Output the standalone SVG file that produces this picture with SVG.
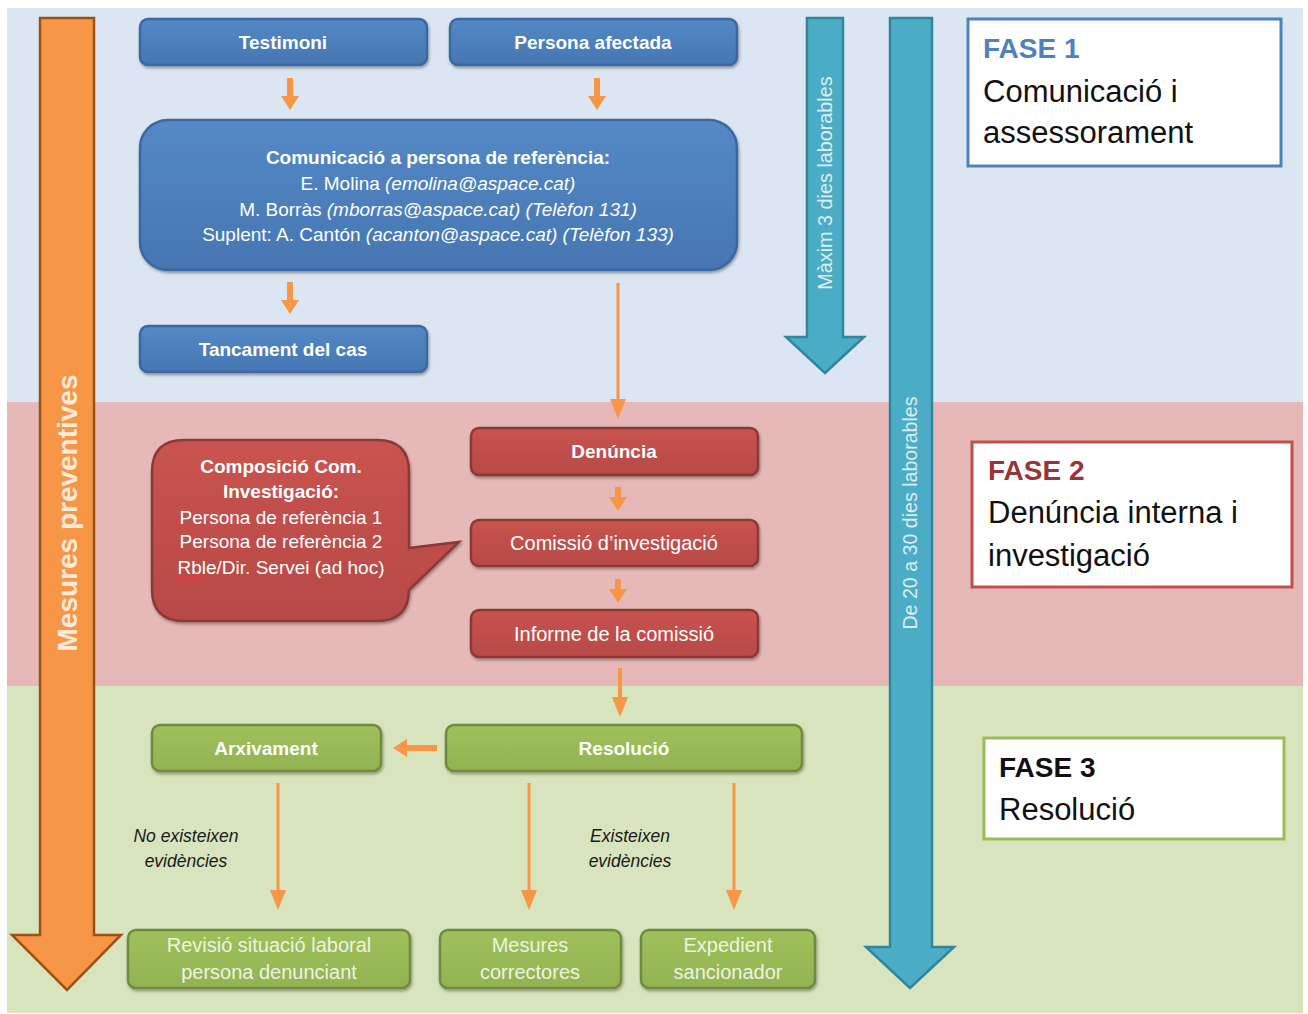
<svg xmlns="http://www.w3.org/2000/svg" width="1308" height="1014" viewBox="0 0 1308 1014">
<style>
text{font-family:"Liberation Sans",Arial,sans-serif}
.lbl{font-size:19px;fill:#ffffff;text-anchor:middle}
.b{font-weight:bold}
.rg{font-size:20px}
.blue{fill:url(#gBlue);stroke:#3a679f;stroke-width:2.5;filter:url(#sh)}
.red{fill:url(#gRed);stroke:#8c3836;stroke-width:2.5;filter:url(#sh)}
.green{fill:url(#gGreen);stroke:#71893f;stroke-width:2.5;filter:url(#sh)}
.gtx{font-size:20px;fill:#eef3e2;text-anchor:middle}
.conn line{stroke:#f79646}
.thick{stroke-width:6}
.thin{stroke-width:3}
.ital{font-size:17.5px;font-style:italic;fill:#1a1a1a;text-anchor:middle}
.fhd{font-size:28px;font-weight:bold}
.fbd{font-size:31px;fill:#111111}
</style>
<defs>
<linearGradient id="gBlue" x1="0" y1="0" x2="0" y2="1"><stop offset="0" stop-color="#5489c6"/><stop offset="1" stop-color="#4676b2"/></linearGradient>
<linearGradient id="gRed" x1="0" y1="0" x2="0" y2="1"><stop offset="0" stop-color="#c9534f"/><stop offset="1" stop-color="#b74a47"/></linearGradient>
<linearGradient id="gGreen" x1="0" y1="0" x2="0" y2="1"><stop offset="0" stop-color="#a0c05c"/><stop offset="1" stop-color="#93b352"/></linearGradient>
<filter id="sh" x="-10%" y="-20%" width="120%" height="150%"><feDropShadow dx="1" dy="2" stdDeviation="1.5" flood-color="#000" flood-opacity="0.35"/></filter>
<marker id="hs" markerUnits="userSpaceOnUse" markerWidth="14" markerHeight="18" refX="0" refY="9" orient="auto"><path d="M0,0 L14,9 L0,18 Z" fill="#f79646"/></marker>
<marker id="ht" markerUnits="userSpaceOnUse" markerWidth="20" markerHeight="16" refX="0" refY="8" orient="auto"><path d="M0,0 L20,8 L0,16 Z" fill="#f79646"/></marker>
</defs>

<rect x="0" y="0" width="1308" height="1014" fill="#ffffff"/>
<g id="bands">
<rect x="7" y="8" width="1296" height="394" fill="#dce6f2"/>
<rect x="7" y="402" width="1296" height="284" fill="#e6b9b8"/>
<rect x="7" y="686" width="1296" height="327" fill="#d7e4bd"/>
</g>

<g id="arrow-mesures">
<path d="M40,18 H94 V935 H121 L67,990 L12,935 H40 Z" fill="#f79646" stroke="#9a5214" stroke-width="2.5" stroke-linejoin="miter"/>
<text transform="translate(77,513) rotate(-90)" text-anchor="middle" font-size="28" font-weight="bold" fill="#fdeada">Mesures preventives</text>
</g>
<g id="arrow-maxim">
<path d="M807,18 H843 V337 H864 L825,373 L786,337 H807 Z" fill="#4bacc6" stroke="#31859c" stroke-width="2.5"/>
<text transform="translate(832,183) rotate(-90)" text-anchor="middle" font-size="19.8" fill="#dbeef4">Màxim 3 dies laborables</text>
</g>
<g id="arrow-dies">
<path d="M890,18 H932 V947 H954 L910,988 L866,947 H890 Z" fill="#4bacc6" stroke="#31859c" stroke-width="2.5"/>
<text transform="translate(917,513) rotate(-90)" text-anchor="middle" font-size="19.6" fill="#dbeef4">De 20 a 30 dies laborables</text>
</g>

<g id="fase1">
<rect x="968" y="19" width="313" height="147" fill="#ffffff" stroke="#4f81bd" stroke-width="3"/>
<text x="983" y="58" class="fhd" fill="#4f81bd">FASE 1</text>
<text x="983" y="102" class="fbd">Comunicació i</text>
<text x="983" y="143" class="fbd">assessorament</text>
</g>
<g id="fase2">
<rect x="972" y="442" width="320" height="145" fill="#ffffff" stroke="#c0504d" stroke-width="3"/>
<text x="988" y="480" class="fhd" fill="#953735">FASE 2</text>
<text x="988" y="523" class="fbd">Denúncia interna i</text>
<text x="988" y="566" class="fbd">investigació</text>
</g>
<g id="fase3">
<rect x="984" y="738" width="300" height="101" fill="#ffffff" stroke="#9bbb59" stroke-width="3"/>
<text x="999" y="777" class="fhd" fill="#111111">FASE 3</text>
<text x="999" y="820" class="fbd">Resolució</text>
</g>

<g id="connectors" class="conn">
<line x1="290" y1="78" x2="290" y2="96" class="thick" marker-end="url(#hs)"/>
<line x1="597" y1="78" x2="597" y2="96" class="thick" marker-end="url(#hs)"/>
<line x1="290" y1="282" x2="290" y2="300" class="thick" marker-end="url(#hs)"/>
<line x1="618" y1="283" x2="618" y2="399" class="thin" marker-end="url(#ht)"/>
<line x1="618" y1="487" x2="618" y2="497" class="thick" marker-end="url(#hs)"/>
<line x1="618" y1="579" x2="618" y2="589" class="thick" marker-end="url(#hs)"/>
<line x1="620" y1="668" x2="620" y2="697" class="thin" style="stroke-width:4" marker-end="url(#ht)"/>
<line x1="437" y1="748" x2="407" y2="748" class="thick" marker-end="url(#hs)"/>
<line x1="278" y1="783" x2="278" y2="890" class="thin" marker-end="url(#ht)"/>
<line x1="529" y1="783" x2="529" y2="890" class="thin" marker-end="url(#ht)"/>
<line x1="734" y1="783" x2="734" y2="890" class="thin" marker-end="url(#ht)"/>
</g>

<g id="n-testimoni">
<rect x="140" y="19" width="287" height="46" rx="8" class="blue"/>
<text x="283" y="49" class="lbl b">Testimoni</text>
</g>
<g id="n-persona">
<rect x="450" y="19" width="287" height="46" rx="8" class="blue"/>
<text x="593" y="49" class="lbl b">Persona afectada</text>
</g>
<g id="n-comunicacio">
<rect x="140" y="120" width="597" height="150" rx="28" class="blue"/>
<text x="438" y="164" class="lbl b">Comunicació a persona de referència:</text>
<text x="438" y="190" class="lbl" font-size="19.5">E. Molina <tspan font-style="italic">(emolina@aspace.cat)</tspan></text>
<text x="438" y="216" class="lbl" font-size="19.5">M. Borràs <tspan font-style="italic">(mborras@aspace.cat) (Telèfon 131)</tspan></text>
<text x="438" y="241" class="lbl" font-size="19.5">Suplent: A. Cantón <tspan font-style="italic">(acanton@aspace.cat) (Telèfon 133)</tspan></text>
</g>
<g id="n-tancament">
<rect x="140" y="326" width="287" height="46" rx="8" class="blue"/>
<text x="283" y="356" class="lbl b">Tancament del cas</text>
</g>

<g id="n-composicio">
<path d="M184,440 H377 Q409,440 409,472 V548 L459,542 L409,590 V589 Q409,621 377,621 H184 Q152,621 152,589 V472 Q152,440 184,440 Z" class="red"/>
<text x="281" y="473" class="lbl b">Composició Com.</text>
<text x="281" y="498" class="lbl b">Investigació:</text>
<text x="281" y="524" class="lbl">Persona de referència 1</text>
<text x="281" y="548" class="lbl">Persona de referència 2</text>
<text x="281" y="574" class="lbl">Rble/Dir. Servei (ad hoc)</text>
<path d="M176,579 l2,-2 l2,2 l2,-2 l2,2 l2,-2 l2,2 l2,-2 l2,2 l2,-2 l2,2 l2,-2 l2,2 l2,-2 l2,2" fill="none" stroke="#ff3030" stroke-width="1.2"/>
</g>
<g id="n-denuncia">
<rect x="471" y="428" width="287" height="47" rx="8" class="red"/>
<text x="614" y="458" class="lbl b">Denúncia</text>
</g>
<g id="n-comissio">
<rect x="471" y="520" width="287" height="46" rx="8" class="red"/>
<text x="614" y="550" class="lbl rg">Comissió d’investigació</text>
</g>
<g id="n-informe">
<rect x="471" y="610" width="287" height="47" rx="8" class="red"/>
<text x="614" y="641" class="lbl rg">Informe de la comissió</text>
</g>

<g id="n-arxivament">
<rect x="152" y="725" width="229" height="46" rx="8" class="green"/>
<text x="266" y="755" class="lbl b">Arxivament</text>
</g>
<g id="n-resolucio">
<rect x="446" y="725" width="356" height="46" rx="8" class="green"/>
<text x="624" y="755" class="lbl b">Resolució</text>
</g>
<g id="n-revisio">
<rect x="128" y="930" width="282" height="58" rx="8" class="green"/>
<text x="269" y="952" class="gtx">Revisió situació laboral</text>
<text x="269" y="979" class="gtx">persona denunciant</text>
</g>
<g id="n-mesures">
<rect x="440" y="930" width="181" height="58" rx="8" class="green"/>
<text x="530" y="952" class="gtx">Mesures</text>
<text x="530" y="979" class="gtx">correctores</text>
</g>
<g id="n-expedient">
<rect x="641" y="930" width="174" height="58" rx="8" class="green"/>
<text x="728" y="952" class="gtx">Expedient</text>
<text x="728" y="979" class="gtx">sancionador</text>
</g>

<g id="labels">
<text x="186" y="842" class="ital">No existeixen</text>
<text x="186" y="867" class="ital">evidències</text>
<text x="630" y="842" class="ital">Existeixen</text>
<text x="630" y="867" class="ital">evidències</text>
</g>
</svg>
